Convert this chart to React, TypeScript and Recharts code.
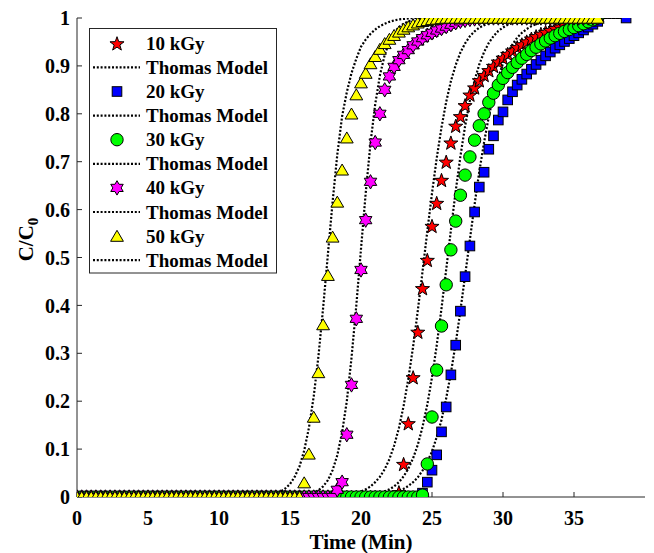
import React from 'react';
import { ComposedChart, Line, Scatter, XAxis, YAxis } from 'recharts';

const FONT = '"Liberation Serif", "Times New Roman", Times, serif';

// sampling times (min)
const T = [
  0, 0.33, 0.67, 1, 1.33, 1.67, 2, 2.33, 2.67, 3,
  3.33, 3.67, 4, 4.33, 4.67, 5, 5.33, 5.67, 6, 6.33,
  6.67, 7, 7.33, 7.67, 8, 8.33, 8.67, 9, 9.33, 9.67,
  10, 10.33, 10.67, 11, 11.33, 11.67, 12, 12.33, 12.67, 13,
  13.33, 13.67, 14, 14.33, 14.67, 15, 15.33, 15.67, 16, 16.33,
  16.67, 17, 17.33, 17.67, 18, 18.33, 18.67, 19, 19.33, 19.67,
  20, 20.33, 20.67, 21, 21.33, 21.67, 22, 22.33, 22.67, 23,
  23.33, 23.67, 24, 24.33, 24.67, 25, 25.33, 25.67, 26, 26.33,
  26.67, 27, 27.33, 27.67, 28, 28.33, 28.67, 29, 29.33, 29.67,
  30, 30.33, 30.67, 31, 31.33, 31.67, 32, 32.33, 32.67, 33,
  33.33, 33.67, 34, 34.33, 34.67, 35, 35.33, 35.67, 36, 36.33,
  36.67, 37, 37.33, 37.67, 38, 38.33, 38.67,
];

const V10 = [
  0, 0, 0, 0, 0, 0, 0, 0, 0, 0,
  0, 0, 0, 0, 0, 0, 0, 0, 0, 0,
  0, 0, 0, 0, 0, 0, 0, 0, 0, 0,
  0, 0, 0, 0, 0, 0, 0, 0, 0, 0,
  0, 0, 0, 0, 0, 0, 0, 0, 0, 0,
  0, 0, 0, 0, 0, 0, 0, 0, 0, 0,
  0, 0, 0, 0, 0, 0, 0, 0, 0.01, 0.069,
  0.154, 0.25, 0.345, 0.436, 0.495, 0.566, 0.614, 0.662, 0.7, 0.74,
  0.775, 0.795, 0.818, 0.84, 0.855, 0.87, 0.881, 0.891, 0.9, 0.909,
  0.917, 0.925, 0.932, 0.939, 0.945, 0.951, 0.957, 0.962, 0.967, 0.971,
  0.975, 0.979, 0.982, 0.985, 0.988, 0.99, 0.992, 0.994, 0.996, 0.998,
  1, null, null, null, null, null, null,
];

const V20 = [
  0, 0, 0, 0, 0, 0, 0, 0, 0, 0,
  0, 0, 0, 0, 0, 0, 0, 0, 0, 0,
  0, 0, 0, 0, 0, 0, 0, 0, 0, 0,
  0, 0, 0, 0, 0, 0, 0, 0, 0, 0,
  0, 0, 0, 0, 0, 0, 0, 0, 0, 0,
  0, 0, 0, 0, 0, 0, 0, 0, 0, 0,
  0, 0, 0, 0, 0, 0, 0, 0, 0, 0,
  0, 0, 0, 0.008, 0.031, 0.056, 0.088, 0.136, 0.188, 0.255,
  0.317, 0.388, 0.46, 0.524, 0.595, 0.647, 0.678, 0.726, 0.754, 0.787,
  0.804, 0.829, 0.846, 0.86, 0.872, 0.883, 0.893, 0.903, 0.912, 0.921,
  0.929, 0.937, 0.944, 0.951, 0.957, 0.963, 0.969, 0.975, 0.981, 0.987,
  0.993, null, null, null, null, null, 1,
];

const V30 = [
  0, 0, 0, 0, 0, 0, 0, 0, 0, 0,
  0, 0, 0, 0, 0, 0, 0, 0, 0, 0,
  0, 0, 0, 0, 0, 0, 0, 0, 0, 0,
  0, 0, 0, 0, 0, 0, 0, 0, 0, 0,
  0, 0, 0, 0, 0, 0, 0, 0, 0, 0,
  0, 0, 0, 0, 0, 0, 0, 0, 0, 0,
  0, 0, 0, 0, 0, 0, 0, 0, 0, 0,
  0, 0, 0, 0.004, 0.069, 0.167, 0.265, 0.357, 0.443, 0.516,
  0.576, 0.63, 0.672, 0.71, 0.745, 0.775, 0.8, 0.824, 0.843, 0.86,
  0.874, 0.886, 0.897, 0.907, 0.916, 0.924, 0.932, 0.939, 0.946, 0.952,
  0.958, 0.963, 0.968, 0.972, 0.976, 0.98, 0.984, 0.988, 0.992, 0.996,
  1, null, null, null, null, null, null,
];

const V40 = [
  0, 0, 0, 0, 0, 0, 0, 0, 0, 0,
  0, 0, 0, 0, 0, 0, 0, 0, 0, 0,
  0, 0, 0, 0, 0, 0, 0, 0, 0, 0,
  0, 0, 0, 0, 0, 0, 0, 0, 0, 0,
  0, 0, 0, 0, 0, 0, 0, 0, 0, 0,
  0, 0, 0, 0, 0, 0.015, 0.031, 0.13, 0.234, 0.372,
  0.474, 0.578, 0.658, 0.74, 0.8, 0.85, 0.878, 0.898, 0.912, 0.923,
  0.933, 0.943, 0.951, 0.958, 0.964, 0.969, 0.974, 0.978, 0.982, 0.986,
  0.99, 0.993, 0.995, 0.997, 0.998, 0.999, 1, 1, 1, 1,
  1, 1, 1, 1, 1, 1, 1, 1, 1, 1,
  1, 1, 1, 1, 1, 1, 1, 1, 1, 1,
  1, null, null, null, null, null, null,
];

const V50 = [
  0, 0, 0, 0, 0, 0, 0, 0, 0, 0,
  0, 0, 0, 0, 0, 0, 0, 0, 0, 0,
  0, 0, 0, 0, 0, 0, 0, 0, 0, 0,
  0, 0, 0, 0, 0, 0, 0, 0, 0, 0,
  0, 0, 0, 0, 0, 0, 0, 0, 0.03, 0.09,
  0.167, 0.26, 0.36, 0.463, 0.543, 0.616, 0.683, 0.75, 0.8, 0.84,
  0.865, 0.885, 0.905, 0.92, 0.935, 0.947, 0.956, 0.964, 0.971, 0.977,
  0.982, 0.986, 0.99, 0.993, 0.995, 0.997, 0.998, 0.999, 1, 1,
  1, 1, 1, 1, 1, 1, 1, 1, 1, 1,
  1, 1, 1, 1, 1, 1, 1, 1, 1, 1,
  1, 1, 1, 1, 1, 1, 1, 1, 1, 1,
  1, null, null, null, null, null, null,
];

// Thomas model curves [time, C/C0]
const M10 = [
  [0, 0], [17, 0.0006], [18, 0.0016], [19, 0.0043], [19.67, 0.0083], [20, 0.0115],
  [20.33, 0.016], [20.67, 0.022], [21, 0.031], [21.33, 0.042], [21.67, 0.058],
  [22, 0.079], [22.33, 0.107], [22.67, 0.144], [23, 0.19], [23.33, 0.246],
  [23.67, 0.314], [24, 0.389], [24.33, 0.47], [24.67, 0.555], [25, 0.634],
  [25.33, 0.707], [25.67, 0.772], [26, 0.825], [26.33, 0.868], [26.67, 0.902],
  [27, 0.928], [27.33, 0.947], [27.67, 0.962], [28, 0.972], [28.33, 0.98],
  [28.67, 0.985], [29, 0.99], [29.33, 0.993], [29.67, 0.995], [30, 0.996],
  [30.67, 0.998], [31.33, 0.999], [32.33, 1], [38.67, 1],
];
const M20 = [
  [0, 0], [20, 0.0012], [21, 0.003], [22, 0.007], [22.67, 0.013], [23, 0.017],
  [23.33, 0.023], [23.67, 0.031], [24, 0.041], [24.33, 0.055], [24.67, 0.073],
  [25, 0.095], [25.33, 0.125], [25.67, 0.161], [26, 0.206], [26.33, 0.259],
  [26.67, 0.321], [27, 0.389], [27.33, 0.462], [27.67, 0.538], [28, 0.611],
  [28.33, 0.679], [28.67, 0.741], [29, 0.794], [29.33, 0.839], [29.67, 0.876],
  [30, 0.905], [30.33, 0.928], [30.67, 0.945], [31, 0.959], [31.33, 0.969],
  [31.67, 0.977], [32, 0.983], [32.33, 0.987], [32.67, 0.99], [33, 0.993],
  [33.67, 0.996], [34.33, 0.998], [35.33, 0.999], [36.33, 1], [38.67, 1],
];
const M30 = [
  [0, 0], [19, 0.0008], [20, 0.0022], [21, 0.006], [21.67, 0.012], [22, 0.016],
  [22.33, 0.022], [22.67, 0.031], [23, 0.043], [23.33, 0.059], [23.67, 0.081],
  [24, 0.109], [24.33, 0.146], [24.67, 0.193], [25, 0.25], [25.33, 0.316],
  [25.67, 0.394], [26, 0.475], [26.33, 0.557], [26.67, 0.639], [27, 0.711],
  [27.33, 0.774], [27.67, 0.828], [28, 0.87], [28.33, 0.903], [28.67, 0.929],
  [29, 0.948], [29.33, 0.962], [29.67, 0.973], [30, 0.98], [30.33, 0.986],
  [30.67, 0.99], [31, 0.993], [31.33, 0.995], [31.67, 0.996], [32, 0.997],
  [32.67, 0.9985], [33.33, 0.999], [34.33, 1], [38.67, 1],
];
const M40 = [
  [0, 0], [15.67, 0.002], [16, 0.003], [16.33, 0.005], [16.67, 0.0085], [17, 0.014],
  [17.33, 0.022], [17.67, 0.035], [18, 0.056], [18.33, 0.087], [18.67, 0.135],
  [19, 0.2], [19.33, 0.29], [19.67, 0.4], [20, 0.518], [20.33, 0.634],
  [20.67, 0.739], [21, 0.82], [21.33, 0.88], [21.67, 0.923], [22, 0.951],
  [22.33, 0.969], [22.67, 0.981], [23, 0.988], [23.33, 0.993], [23.67, 0.996],
  [24, 0.997], [24.33, 0.998], [25, 0.999], [26, 1], [38.67, 1],
];
const M50 = [
  [0, 0], [12.67, 0.001], [13, 0.002], [13.33, 0.003], [13.67, 0.005], [14, 0.007],
  [14.33, 0.011], [14.67, 0.018], [15, 0.027], [15.33, 0.042], [15.67, 0.064],
  [16, 0.097], [16.33, 0.144], [16.67, 0.21], [17, 0.293], [17.33, 0.394],
  [17.67, 0.507], [18, 0.616], [18.33, 0.715], [18.67, 0.795], [19, 0.845],
  [19.33, 0.885], [19.67, 0.915], [20, 0.94], [20.33, 0.955], [20.67, 0.967],
  [21, 0.976], [21.33, 0.983], [21.67, 0.988], [22, 0.992], [22.33, 0.995],
  [22.67, 0.997], [23, 0.998], [23.33, 0.999], [23.67, 1], [38.67, 1],
];

const SERIES_NAMES = ['10 kGy', '20 kGy', '30 kGy', '40 kGy', '50 kGy'];
const MODEL_NAME = 'Thomas Model';
const X_TICKS = [0, 5, 10, 15, 20, 25, 30, 35];
const Y_TICKS = [0, 0.1, 0.2, 0.3, 0.4, 0.5, 0.6, 0.7, 0.8, 0.9, 1];
const X_TITLE = 'Time (Min)';

const toPoints = (vals: (number | null)[]) =>
  T.map((t, i) => ({ t, v: vals[i] })).filter((p) => p.v !== null && p.v !== undefined);
const toModel = (pairs: number[][]) => pairs.map(([t, v]) => ({ t, v }));

const starPts = (cx: number, cy: number, R: number, r: number, n: number) => {
  const pts: string[] = [];
  for (let k = 0; k < 2 * n; k++) {
    const a = -Math.PI / 2 + (k * Math.PI) / n;
    const rad = k % 2 === 0 ? R : r;
    pts.push(`${(cx + rad * Math.cos(a)).toFixed(2)},${(cy + rad * Math.sin(a)).toFixed(2)}`);
  }
  return pts.join(' ');
};

const EDGE = { stroke: '#000', strokeWidth: 1 };

const MARKERS: Record<string, (cx: number, cy: number) => React.ReactElement> = {
  pentagram: (cx, cy) => <polygon points={starPts(cx, cy + 0.8, 7.4, 3, 5)} fill="#FF0000" {...EDGE} />,
  square: (cx, cy) => <rect x={cx - 4.8} y={cy - 4.8} width={9.6} height={9.6} fill="#0000FF" {...EDGE} />,
  circle: (cx, cy) => <circle cx={cx} cy={cy} r={6.2} fill="#00FF00" {...EDGE} />,
  hexagram: (cx, cy) => <polygon points={starPts(cx, cy, 7.2, 4.15, 6)} fill="#FF00FF" {...EDGE} />,
  triangle: (cx, cy) => (
    <polygon points={`${cx},${cy - 5.8} ${cx - 6.4},${cy + 5.2} ${cx + 6.4},${cy + 5.2}`} fill="#FFFF00" {...EDGE} />
  ),
};

const SERIES = [
  { name: SERIES_NAMES[0], data: toPoints(V10), model: toModel(M10), marker: 'pentagram' },
  { name: SERIES_NAMES[1], data: toPoints(V20), model: toModel(M20), marker: 'square' },
  { name: SERIES_NAMES[2], data: toPoints(V30), model: toModel(M30), marker: 'circle' },
  { name: SERIES_NAMES[3], data: toPoints(V40), model: toModel(M40), marker: 'hexagram' },
  { name: SERIES_NAMES[4], data: toPoints(V50), model: toModel(M50), marker: 'triangle' },
];

const AXIS_COLOR = '#262626';
const tickStyle = { fill: '#000', fontSize: 20, fontWeight: 700, fontFamily: FONT };
const DOT = '2 1.8';
const DOT_W = 2.2;

const XTitle = (props: any) => {
  const vb = props.viewBox || { x: 77, y: 497, width: 568, height: 36 };
  return (
    <text x={vb.x + vb.width / 2} y={vb.y + vb.height + 16} textAnchor="middle"
      fontFamily={FONT} fontWeight={700} fontSize={21} fill="#000">
      {X_TITLE}
    </text>
  );
};

const YTitle = (props: any) => {
  const vb = props.viewBox || { x: 0, y: 18, width: 77, height: 479 };
  const cx = 33;
  const cy = vb.y + vb.height / 2 - 18;
  return (
    <text x={cx} y={cy} transform={`rotate(-90, ${cx}, ${cy})`} textAnchor="middle"
      fontFamily={FONT} fontWeight={700} fontSize={21} fill="#000">
      C/C<tspan dy={5} fontSize={15}>0</tspan>
    </text>
  );
};

const Legend = () => {
  const left = 89.5, top = 28.5, w = 187, h = 244.5;
  const row0 = 43.3, step = 24.1;
  return (
    <svg width={654} height={553} style={{ position: 'absolute', left: 0, top: 0, pointerEvents: 'none' }}>
      <rect x={left} y={top} width={w} height={h} fill="#fff" stroke={AXIS_COLOR} strokeWidth={1} />
      {SERIES.map((s, i) => {
        const yd = row0 + step * (2 * i);
        const ym = row0 + step * (2 * i + 1);
        return (
          <g key={s.name}>
            {MARKERS[s.marker](117, yd)}
            <text x={146} y={yd + 6.5} fontFamily={FONT} fontWeight={700} fontSize={19} fill="#000">{s.name}</text>
            <line x1={93} y1={ym} x2={140} y2={ym} stroke="#000" strokeWidth={DOT_W} strokeDasharray={DOT} />
            <text x={146} y={ym + 6.5} fontFamily={FONT} fontWeight={700} fontSize={19} fill="#000">{MODEL_NAME}</text>
          </g>
        );
      })}
    </svg>
  );
};

export default function App() {
  return (
    <div style={{ position: 'absolute', left: 0, top: 0, width: 654, height: 553, background: '#fff' }}>
      <ComposedChart width={654} height={553} margin={{ top: 18, right: 9, bottom: 20, left: 0 }}>
        <XAxis type="number" dataKey="t" domain={[0, 40]} ticks={X_TICKS} interval={0} allowDataOverflow
          orientation="bottom" height={36} tickSize={-5} tickMargin={19} stroke={AXIS_COLOR}
          tick={tickStyle} label={{ content: XTitle }} />
        <XAxis xAxisId="top" type="number" dataKey="t" domain={[0, 40]} ticks={X_TICKS} interval={0} allowDataOverflow
          orientation="top" height={0} tickSize={-5} tick={false} stroke={AXIS_COLOR} />
        <YAxis type="number" dataKey="v" domain={[0, 1]} ticks={Y_TICKS} interval={0} allowDataOverflow
          width={77} tickSize={-5} tickMargin={12} stroke={AXIS_COLOR} tick={tickStyle}
          tickFormatter={(v: number) => String(v)} label={{ content: YTitle }} />
        <YAxis yAxisId="right" orientation="right" type="number" domain={[0, 1]} ticks={Y_TICKS} interval={0}
          allowDataOverflow width={0} tickSize={-5} tick={false} stroke={AXIS_COLOR} />
        {SERIES.flatMap((s) => [
          <Scatter key={s.name + '-d'} name={s.name} data={s.data} dataKey="v" isAnimationActive={false}
            shape={(p: any) => MARKERS[s.marker](p.cx, p.cy)} />,
          <Line key={s.name + '-m'} name={MODEL_NAME} data={s.model} dataKey="v" type="linear"
            stroke="#000" strokeWidth={DOT_W} strokeDasharray={DOT} dot={false} activeDot={false}
            isAnimationActive={false} />,
        ])}
      </ComposedChart>
      <Legend />
    </div>
  );
}
